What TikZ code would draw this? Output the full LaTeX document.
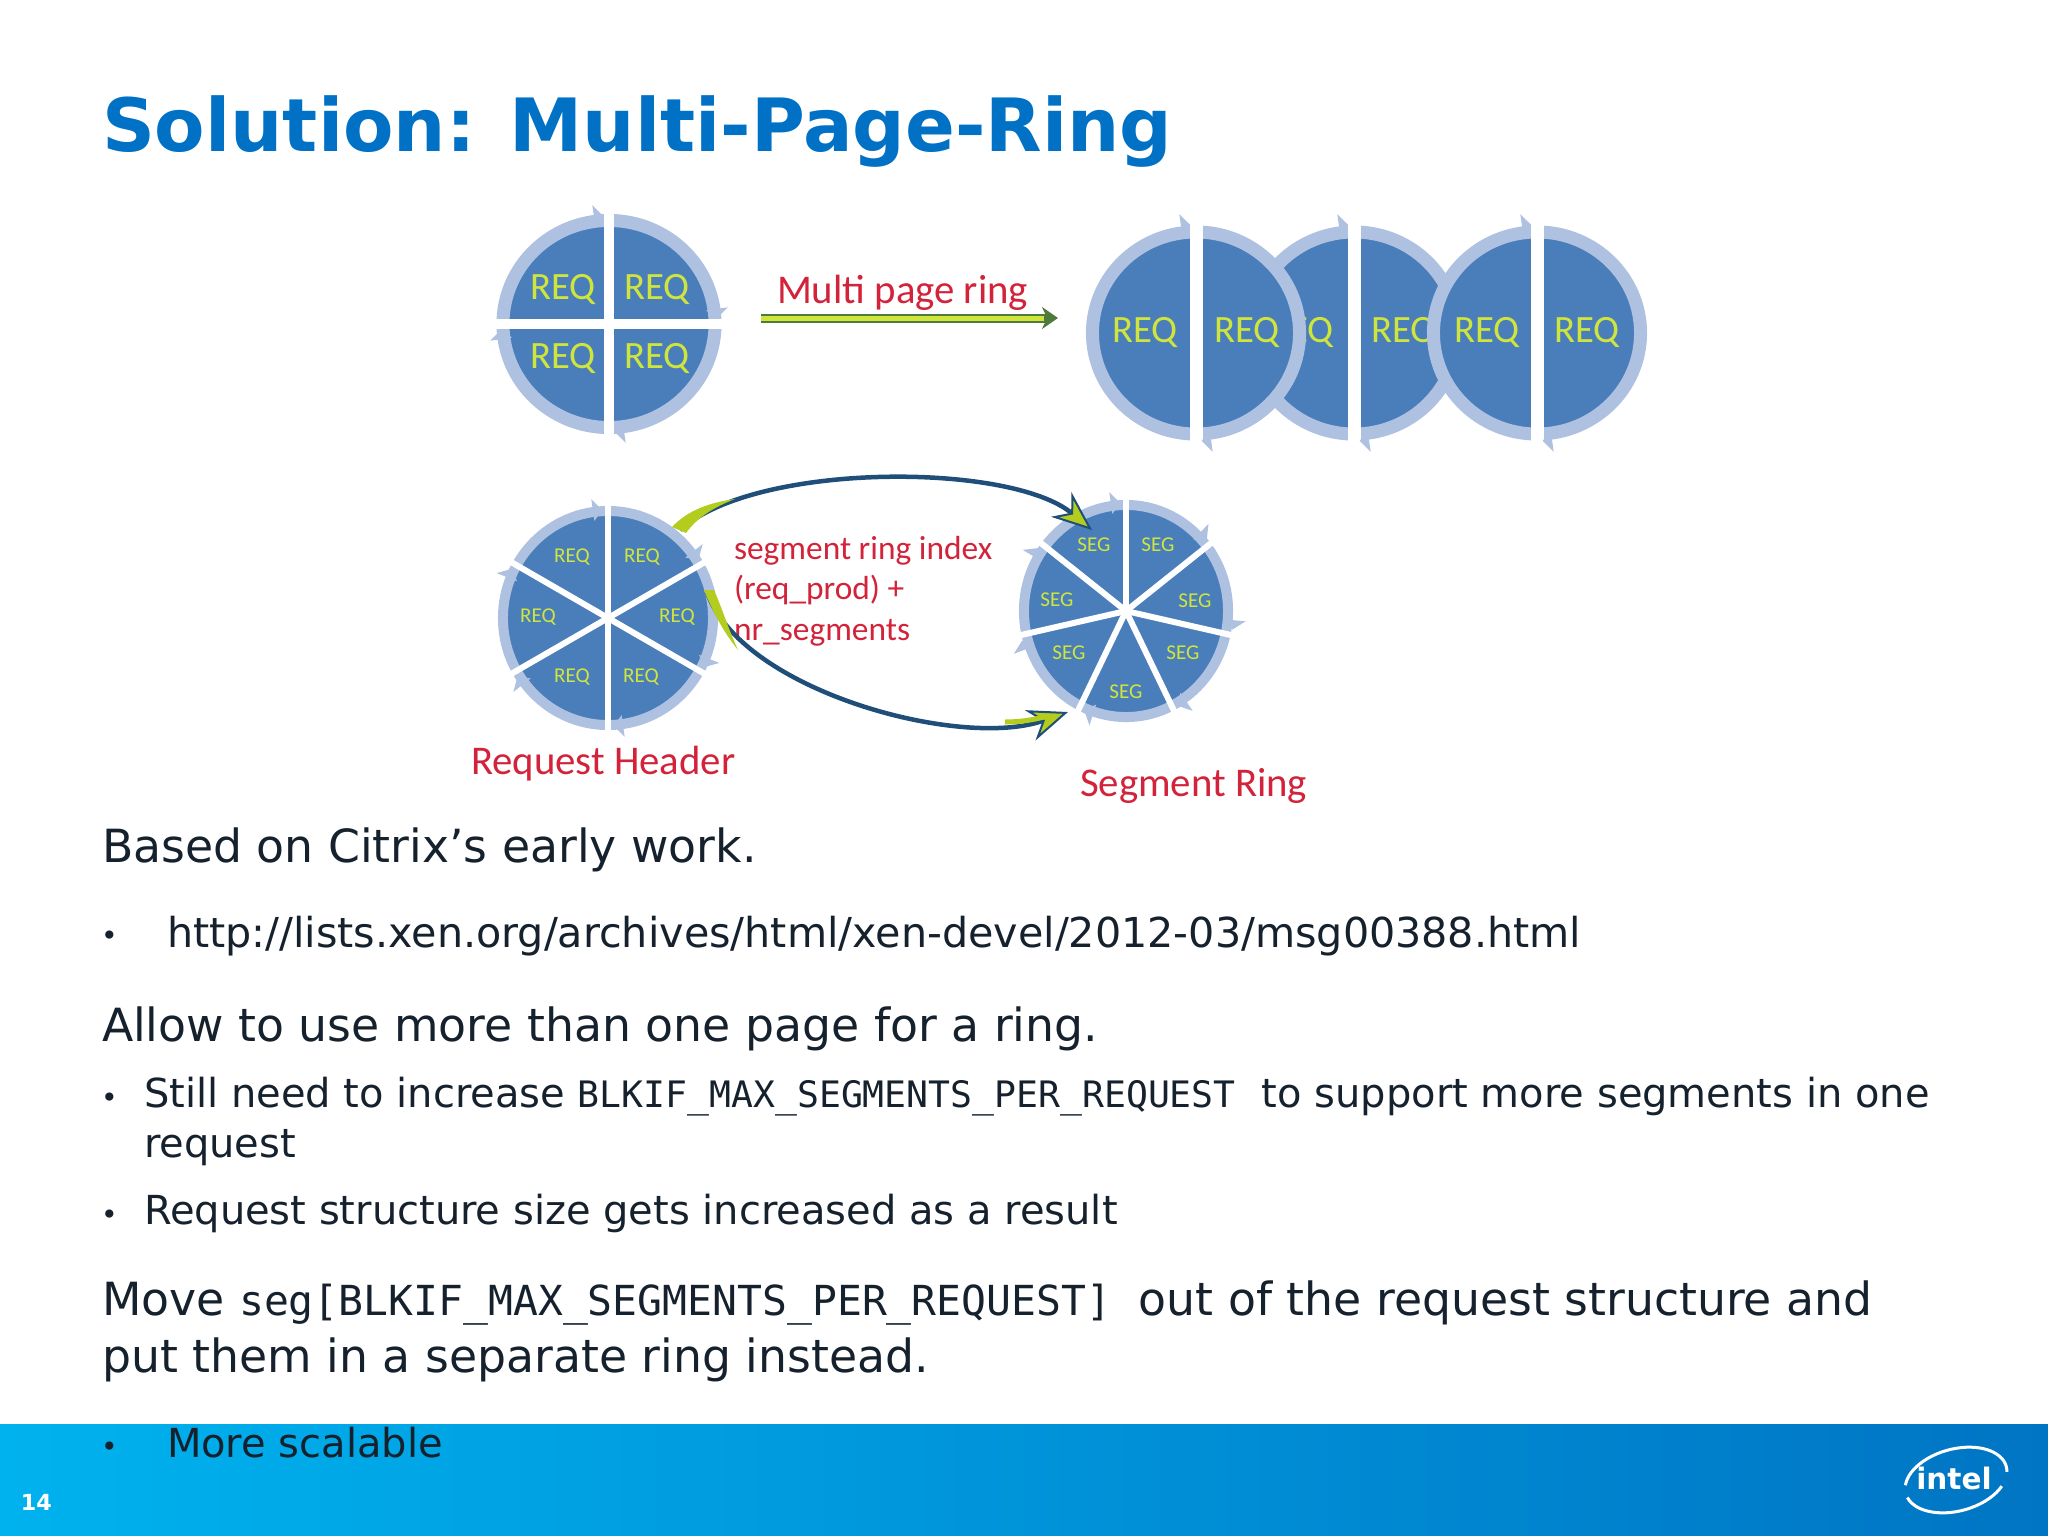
\documentclass[tikz,border=0pt]{standalone}
\usepackage{fontspec}
\setmainfont{DejaVu Sans}
\setmonofont{DejaVu Sans Mono}
\newfontfamily\imgfont{Carlito}
\usetikzlibrary{shapes.geometric,arrows.meta,calc}
\definecolor{titleblue}{HTML}{0071C5}
\definecolor{bodyink}{HTML}{16212E}
\definecolor{discblue}{HTML}{4A7EBB}
\definecolor{ringblue}{HTML}{AFC1E0}
\definecolor{labelgreen}{HTML}{D0E53C}
\definecolor{labelred}{HTML}{D2233A}
\definecolor{arrownavy}{HTML}{1F4E79}
\definecolor{arrowgreen}{HTML}{B4CC1E}
\definecolor{arrowolive}{HTML}{4E7B3C}
\definecolor{barleft}{HTML}{00B2EE}
\definecolor{barmid}{HTML}{00A4E6}
\definecolor{barright}{HTML}{0075C4}
\newcommand{\sz}[1]{\fontsize{#1}{#1}\selectfont}
\newcommand{\ringtips}[2]{\foreach \a in {#2} {\fill[ringtip] ($(#1.center)+(\a+8:0.98cm)$) -- ($(#1.center)+(\a+8:1.2cm)$) -- ($(#1.center)+(\a+3:1.08cm)$) -- cycle;}}
\begin{document}
\begin{tikzpicture}[x=0.01cm,y=-0.01cm,
 every node/.style={inner sep=0pt,outer sep=0pt},
 titletext/.style={anchor=base west,text=titleblue,font=\bfseries\sz{20.9}},
 mainline/.style={anchor=base west,text=bodyink,font=\sz{13}},
 subline/.style={anchor=base west,text=bodyink,font=\sz{11.37}},
 bulletmark/.style={anchor=base west,text=bodyink,font=\sz{8}},
 ringdisc/.style={ellipse,draw=ringblue,fill=discblue,line width=0.13cm},
 smalldisc/.style={ellipse,draw=ringblue,fill=discblue,line width=0.1cm},
 ringtip/.style={fill=ringblue},
 spokeline/.style={draw=white,line width=0.1cm},
 reqbig/.style={text=labelgreen,font=\imgfont\sz{11}},
 reqsmall/.style={text=labelgreen,font=\imgfont\sz{6}},
 redlabel/.style={anchor=base west,text=labelred,font=\imgfont\sz{11.6}},
 pagearrow/.style={-{Stealth[length=0.16cm,width=0.22cm]},draw=arrowolive,line width=0.09cm},
 curvearrow/.style={-{Stealth[length=0.4cm,width=0.32cm,fill=arrowgreen,line width=0.02cm]},draw=arrownavy,line width=0.045cm},
 curvetail/.style={draw=arrowgreen,line width=0.05cm},
 logoline/.style={draw=white,line width=0.03cm}]
\useasboundingbox (0,0) rectangle (2048,1536);
\shade[left color=barleft,middle color=barmid,right color=barright] (0,1424) rectangle (2048,1536);
\node[titletext] (title) at (102,151) {Solution: Multi-Page-Ring};

% top row
\node[ringdisc,minimum width=2.12cm,minimum height=2.07cm] (pagering) at (609,324) {};
\node[reqbig] (q1) at (563,289) {REQ};
\node[reqbig] (q2) at (657,289) {REQ};
\node[reqbig] (q3) at (563,358) {REQ};
\node[reqbig] (q4) at (657,358) {REQ};
\foreach \a in {0,90,180,270} \draw[spokeline] (pagering.center) -- ++(\a:1.22cm);
\ringtips{pagering}{0,90,180,270}

\node[redlabel] (multilabel) at (777,303) {Multi page ring};
\coordinate (arrowfrom) at (761,318);
\coordinate (arrowto) at (1058,318);
\draw[pagearrow] (arrowfrom) -- (arrowto);
\draw[draw=labelgreen,line width=0.05cm] (arrowfrom) -- ($(arrowto)+(-14,0)$);

\node[ringdisc,minimum width=2.07cm,minimum height=2.02cm] (midring) at (1354,333) {};
\node[reqbig] (m3) at (1301,333) {REQ};
\node[reqbig] (m4) at (1404,333) {REQ};
\draw[spokeline,line width=0.13cm] (midring.center) -- ++(90:1.2cm);
\draw[spokeline,line width=0.13cm] (midring.center) -- ++(-90:1.2cm);
\ringtips{midring}{90,-90}

\node[ringdisc,minimum width=2.07cm,minimum height=2.02cm] (leftring) at (1196,333) {};
\node[reqbig] (m1) at (1145,333) {REQ};
\node[reqbig] (m2) at (1247,333) {REQ};
\draw[spokeline,line width=0.13cm] (leftring.center) -- ++(90:1.2cm);
\draw[spokeline,line width=0.13cm] (leftring.center) -- ++(-90:1.2cm);
\ringtips{leftring}{90,-90}

\node[ringdisc,minimum width=2.07cm,minimum height=2.02cm] (rightring) at (1537,333) {};
\node[reqbig] (m5) at (1487,333) {REQ};
\node[reqbig] (m6) at (1587,333) {REQ};
\draw[spokeline,line width=0.13cm] (rightring.center) -- ++(90:1.2cm);
\draw[spokeline,line width=0.13cm] (rightring.center) -- ++(-90:1.2cm);
\ringtips{rightring}{90,-90}

% bottom row
\node[smalldisc,minimum width=2.1cm,minimum height=2.14cm] (headring) at (608,618) {};
\foreach \a in {90,30,-30,-90,-150,150} \draw[spokeline,line width=0.06cm] (headring.center) -- ++(\a:1.2cm);
\ringtips{headring}{90,30,-30,-90,-150,150}
\foreach \n/\x/\y in {1/572/557,2/642/557,3/538/617,4/677/617,5/572/677,6/641/677}
 \node[reqsmall] (h\n) at (\x,\y) {REQ};

\node[smalldisc,minimum width=2.04cm,minimum height=2.12cm] (segring) at (1126,611) {};
\foreach \a in {90,38.6,-12.9,-64.3,-115.7,-167.1,141.4} \draw[spokeline,line width=0.06cm] (segring.center) -- ++(\a:1.2cm);
\ringtips{segring}{90,38.6,-12.9,-64.3,-115.7,-167.1,141.4}
\foreach \n/\x/\y in {1/1094/545,2/1158/545,3/1057/600,4/1195/601,5/1069/653,6/1183/653,7/1126/692}
 \node[reqsmall] (s\n) at (\x,\y) {SEG};

\node[redlabel,font=\imgfont\sz{9.5}] (idx1) at (734,559) {segment ring index};
\node[redlabel,font=\imgfont\sz{9.5}] (idx2) at (734,599) {(req\_prod) +};
\node[redlabel,font=\imgfont\sz{9.5}] (idx3) at (734,640) {nr\_segments};
\node[redlabel] (headlabel) at (471,774) {Request Header};
\node[redlabel] (seglabel) at (1080,796) {Segment Ring};

\coordinate (topfrom) at (680,530);
\coordinate (topto) at (1092,530);
\coordinate (lowfrom) at (707,592);
\coordinate (lowto) at (1068,712);
\draw[curvearrow] (topfrom) .. controls (755,462) and (1010,462) .. (topto);
\fill[arrowgreen] (672,527) .. controls (685,513) and (705,503) .. (735,499) .. controls (712,508) and (697,518) .. (686,533) -- cycle;
\draw[curvearrow] (lowfrom) .. controls (740,690) and (960,750) .. (lowto);
\fill[arrowgreen] (704,590) .. controls (712,610) and (722,630) .. (738,650) .. controls (728,628) and (722,608) .. (714,590) -- cycle;
\draw[curvetail] (1005,722) .. controls (1020,722) and (1032,720) .. (1044,717);

% slide text
\node[mainline] (based) at (102,862) {Based on Citrix’s early work.};
\node[bulletmark] (b1) at (101,945) {•};
\node[subline,font=\sz{11.73}] (url) at (167,947) {http://lists.xen.org/archives/html/xen-devel/2012-03/msg00388.html};
\node[mainline] (allow) at (102,1041) {Allow to use more than one page for a ring.};
\node[bulletmark] (b2) at (101,1107) {•};
\node[subline] (still) at (144,1107) {Still need to increase {\ttfamily\sz{10.36}BLKIF\_MAX\_SEGMENTS\_PER\_REQUEST}\hspace{0.65em}to support more segments in one};
\node[subline] (request) at (144,1157) {request};
\node[bulletmark] (b3) at (101,1224) {•};
\node[subline] (size) at (144,1224) {Request structure size gets increased as a result};
\node[mainline] (move) at (102,1315) {Move {\ttfamily\sz{11.77}seg[BLKIF\_MAX\_SEGMENTS\_PER\_REQUEST]}\hspace{0.6em}out of the request structure and};
\node[mainline] (put) at (102,1372) {put them in a separate ring instead.};
\node[bulletmark] (b4) at (101,1456) {•};
\node[subline] (scalable) at (167,1457) {More scalable};

% footer
\node[anchor=base west,text=white,font=\bfseries\sz{6.3}] (pagenum) at (21,1510) {14};
\node[text=white,font=\bfseries\sz{8.4}] (logotext) at (1954,1478) {intel};
\begin{scope}[shift={(1956,1480)},rotate=15]
\draw[logoline] (188:0.52cm and 0.31cm) arc[start angle=188,end angle=325,x radius=0.52cm,y radius=0.31cm];
\draw[logoline] (165:0.52cm and 0.31cm) arc[start angle=165,end angle=-10,x radius=0.52cm,y radius=0.31cm];
\end{scope}
\end{tikzpicture}
\end{document}
